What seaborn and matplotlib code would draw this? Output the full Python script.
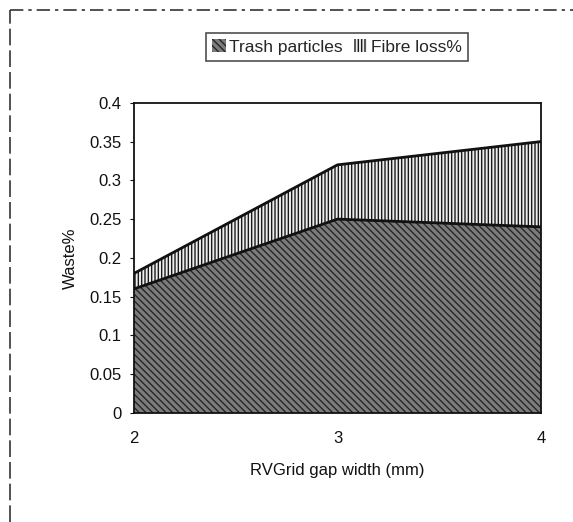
import numpy as np
import pandas as pd
import matplotlib
matplotlib.use("Agg")
import matplotlib.pyplot as plt
import seaborn as sns
from matplotlib.lines import Line2D

gap_width = [2, 3, 4]
trash_particles = [0.16, 0.25, 0.24]
fibre_loss = [0.02, 0.07, 0.11]
y_ticks = [0, 0.05, 0.1, 0.15, 0.2, 0.25, 0.3, 0.35, 0.4]
y_labels = ["0", "0.05", "0.1", "0.15", "0.2", "0.25", "0.3", "0.35", "0.4"]

df = pd.DataFrame({"gap": gap_width, "trash": trash_particles, "fibre": fibre_loss})
df["total"] = df["trash"] + df["fibre"]

sns.set_style("white")
plt.rcParams["font.family"] = ["Liberation Sans", "DejaVu Sans"]
plt.rcParams["hatch.linewidth"] = 1.0

fig = plt.figure(figsize=(5.73, 5.22), dpi=100)
ax = fig.add_axes([0.234, 0.209, 0.710, 0.594])

sns.lineplot(data=df, x="gap", y="trash", color="#111111", linewidth=2, ax=ax,
             legend=False, zorder=3)
sns.lineplot(data=df, x="gap", y="total", color="#111111", linewidth=2, ax=ax,
             legend=False, zorder=3)
ax.fill_between(df["gap"], 0, df["trash"], facecolor="#7c7c7c",
                edgecolor="#262626", hatch="\\\\\\\\\\", linewidth=0, label="Trash particles",
                zorder=1)
ax.fill_between(df["gap"], df["trash"], df["total"], facecolor="#ededed",
                edgecolor="#1a1a1a", hatch="|||||", linewidth=0, label="Fibre loss%",
                zorder=1)
if ax.get_legend() is not None:
    ax.get_legend().remove()

ax.set_xlim(2, 4)
ax.set_ylim(0, 0.4)
ax.set_xticks(gap_width)
ax.set_xticklabels([str(g) for g in gap_width])
ax.set_yticks(y_ticks)
ax.set_yticklabels(y_labels)
ax.tick_params(axis="both", labelsize=12, colors="#111111", length=3,
               direction="out", left=True, bottom=False, pad=10)
ax.tick_params(axis="y", pad=6)
for s in ax.spines.values():
    s.set_color("#111111")
    s.set_linewidth(1.3)
    s.set_zorder(4)
ax.set_xlabel("RVGrid gap width (mm)", fontsize=12, color="#111111", labelpad=12)
ax.set_ylabel("Waste%", fontsize=12, color="#111111", labelpad=8)

handles, labels = ax.get_legend_handles_labels()
leg = fig.legend(handles, labels, loc="center", bbox_to_anchor=(0.588, 0.91), ncol=2,
                 fontsize=12.5, frameon=True, fancybox=False, edgecolor="#222222",
                 handlelength=0.8, handleheight=0.8, handletextpad=0.2,
                 columnspacing=0.6, borderpad=0.35)
leg.get_frame().set_linewidth(1.2)

# scanned outer frame
fig.add_artist(Line2D([0.018, 1.0], [0.981, 0.981], transform=fig.transFigure,
                      color="#333333", linewidth=1.2, linestyle=(0, (8, 3, 2, 3))))
fig.add_artist(Line2D([0.018, 0.018], [0.0, 0.981], transform=fig.transFigure,
                      color="#333333", linewidth=1.2, linestyle=(0, (10, 3))))

fig.savefig("out.png", dpi=100)
